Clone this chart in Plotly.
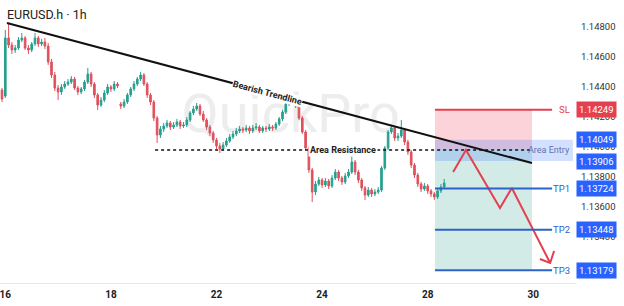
import plotly.graph_objects as go

# ---------------- data ----------------
opens = [
    1.14380, 1.14340, 1.14727, 1.14680, 1.14647, 1.14660, 1.14713, 1.14727, 1.14660, 1.14647,
    1.14687, 1.14727, 1.14687, 1.14700, 1.14673, 1.14567, 1.14480, 1.14393, 1.14367, 1.14400,
    1.14420, 1.14433, 1.14453, 1.14393, 1.14367, 1.14387, 1.14433, 1.14487, 1.14420, 1.14347,
    1.14280, 1.14313, 1.14360, 1.14400, 1.14387, 1.14420, 1.14287, 1.14273, 1.14300, 1.14347,
    1.14387, 1.14420, 1.14453, 1.14480, 1.14420, 1.14347, 1.14300, 1.14193, 1.14080, 1.14120,
    1.14140, 1.14160, 1.14133, 1.14147, 1.14167, 1.14140, 1.14147, 1.14180, 1.14227, 1.14253,
    1.14273, 1.14220, 1.14180, 1.14133, 1.14093, 1.14047, 1.14007, 1.13987, 1.14013, 1.14040,
    1.14067, 1.14087, 1.14107, 1.14120, 1.14113, 1.14127, 1.14107, 1.14127, 1.14133, 1.14107,
    1.14127, 1.14120, 1.14133, 1.14127, 1.14153, 1.14187, 1.14233, 1.14287, 1.14320, 1.14313,
    1.14273, 1.14193, 1.14100, 1.13993, 1.13847, 1.13700, 1.13753, 1.13780, 1.13747, 1.13773,
    1.13740, 1.13793, 1.13833, 1.13793, 1.13767, 1.13807, 1.13833, 1.13900, 1.13833, 1.13780,
    1.13727, 1.13680, 1.13713, 1.13687, 1.13700, 1.13713, 1.13860, 1.13993, 1.14100, 1.14127,
    1.14060, 1.14073, 1.14113, 1.14033, 1.13967, 1.13880, 1.13813, 1.13753, 1.13720, 1.13740,
    1.13707, 1.13687, 1.13667, 1.13707, 1.13733,
]
highs = [
    1.14393, 1.14780, 1.14827, 1.14700, 1.14680, 1.14733, 1.14760, 1.14740, 1.14680, 1.14700,
    1.14760, 1.14740, 1.14720, 1.14727, 1.14693, 1.14587, 1.14500, 1.14413, 1.14420, 1.14440,
    1.14453, 1.14473, 1.14467, 1.14407, 1.14400, 1.14447, 1.14527, 1.14500, 1.14433, 1.14360,
    1.14333, 1.14380, 1.14420, 1.14413, 1.14440, 1.14433, 1.14300, 1.14320, 1.14360, 1.14400,
    1.14440, 1.14467, 1.14500, 1.14493, 1.14433, 1.14360, 1.14313, 1.14207, 1.14140, 1.14160,
    1.14180, 1.14173, 1.14167, 1.14187, 1.14180, 1.14167, 1.14200, 1.14240, 1.14273, 1.14293,
    1.14287, 1.14240, 1.14193, 1.14147, 1.14107, 1.14060, 1.14027, 1.14033, 1.14060, 1.14087,
    1.14107, 1.14127, 1.14140, 1.14133, 1.14147, 1.14140, 1.14147, 1.14160, 1.14147, 1.14140,
    1.14140, 1.14153, 1.14147, 1.14167, 1.14200, 1.14247, 1.14300, 1.14340, 1.14353, 1.14333,
    1.14287, 1.14207, 1.14113, 1.14007, 1.13860, 1.13773, 1.13800, 1.13793, 1.13793, 1.13787,
    1.13813, 1.13853, 1.13847, 1.13807, 1.13827, 1.13853, 1.13947, 1.13913, 1.13847, 1.13793,
    1.13740, 1.13733, 1.13727, 1.13720, 1.13733, 1.13873, 1.14007, 1.14113, 1.14147, 1.14140,
    1.14093, 1.14180, 1.14127, 1.14047, 1.13980, 1.13893, 1.13827, 1.13767, 1.13760, 1.13753,
    1.13720, 1.13700, 1.13727, 1.13753, 1.13787,
]
lows = [
    1.14300, 1.14327, 1.14660, 1.14620, 1.14627, 1.14647, 1.14700, 1.14647, 1.14620, 1.14633,
    1.14673, 1.14667, 1.14673, 1.14653, 1.14547, 1.14460, 1.14373, 1.14313, 1.14347, 1.14387,
    1.14407, 1.14420, 1.14380, 1.14347, 1.14353, 1.14373, 1.14420, 1.14400, 1.14327, 1.14247,
    1.14267, 1.14300, 1.14347, 1.14367, 1.14373, 1.14393, 1.14253, 1.14260, 1.14287, 1.14333,
    1.14373, 1.14407, 1.14440, 1.14407, 1.14327, 1.14280, 1.14173, 1.14027, 1.14060, 1.14100,
    1.14127, 1.14113, 1.14120, 1.14133, 1.14120, 1.14127, 1.14133, 1.14167, 1.14213, 1.14240,
    1.14207, 1.14167, 1.14113, 1.14073, 1.14027, 1.13987, 1.13960, 1.13973, 1.14000, 1.14027,
    1.14053, 1.14073, 1.14093, 1.14093, 1.14100, 1.14087, 1.14093, 1.14113, 1.14093, 1.14093,
    1.14100, 1.14107, 1.14107, 1.14113, 1.14140, 1.14173, 1.14220, 1.14273, 1.14300, 1.14260,
    1.14180, 1.14087, 1.13973, 1.13827, 1.13633, 1.13680, 1.13740, 1.13727, 1.13733, 1.13720,
    1.13727, 1.13780, 1.13773, 1.13747, 1.13753, 1.13793, 1.13820, 1.13813, 1.13760, 1.13707,
    1.13647, 1.13667, 1.13667, 1.13673, 1.13687, 1.13700, 1.13847, 1.13980, 1.14087, 1.14040,
    1.14040, 1.14060, 1.14013, 1.13947, 1.13860, 1.13793, 1.13733, 1.13700, 1.13707, 1.13687,
    1.13667, 1.13647, 1.13653, 1.13693, 1.13720,
]
closes = [
    1.14320, 1.14727, 1.14680, 1.14647, 1.14660, 1.14713, 1.14727, 1.14660, 1.14647, 1.14687,
    1.14727, 1.14687, 1.14700, 1.14673, 1.14567, 1.14480, 1.14393, 1.14367, 1.14400, 1.14420,
    1.14433, 1.14453, 1.14393, 1.14367, 1.14387, 1.14433, 1.14487, 1.14420, 1.14347, 1.14280,
    1.14313, 1.14360, 1.14400, 1.14387, 1.14420, 1.14407, 1.14273, 1.14300, 1.14347, 1.14387,
    1.14420, 1.14453, 1.14480, 1.14420, 1.14347, 1.14300, 1.14193, 1.14080, 1.14120, 1.14140,
    1.14160, 1.14133, 1.14147, 1.14167, 1.14140, 1.14147, 1.14180, 1.14227, 1.14253, 1.14273,
    1.14220, 1.14180, 1.14133, 1.14093, 1.14047, 1.14007, 1.13987, 1.14013, 1.14040, 1.14067,
    1.14087, 1.14107, 1.14120, 1.14113, 1.14127, 1.14107, 1.14127, 1.14133, 1.14107, 1.14127,
    1.14120, 1.14133, 1.14127, 1.14153, 1.14187, 1.14233, 1.14287, 1.14320, 1.14313, 1.14273,
    1.14193, 1.14100, 1.13993, 1.13847, 1.13700, 1.13753, 1.13780, 1.13747, 1.13773, 1.13740,
    1.13793, 1.13833, 1.13793, 1.13767, 1.13807, 1.13833, 1.13900, 1.13833, 1.13780, 1.13727,
    1.13680, 1.13713, 1.13687, 1.13700, 1.13713, 1.13860, 1.13993, 1.14100, 1.14127, 1.14060,
    1.14073, 1.14113, 1.14033, 1.13967, 1.13880, 1.13813, 1.13753, 1.13720, 1.13740, 1.13707,
    1.13687, 1.13667, 1.13707, 1.13733, 1.13760,
]
bar_index = list(range(len(closes)))

tick_pos = [1, 33, 65, 97, 129, 161]
tick_labels = ["16", "18", "22", "24", "28", "30"]
price_ticks = [1.132, 1.134, 1.136, 1.138, 1.140, 1.142, 1.144, 1.146, 1.148]

sl_price = 1.14249
entry_hi = 1.14049
entry_lo = 1.13906
tp_prices = [1.13724, 1.13448, 1.13179]
tp_names = ["TP1", "TP2", "TP3"]
resistance = 1.13980

trend_x = [1.5, 160.6]
trend_y = [1.14827, 1.13893]
res_x = [46.4, 160.0]
zone_x = [131.2, 160.6]
level_x_end = 166.7
entry_x_end = 173.0

path_x = [136.7, 140.6, 150.9, 154.5, 166.1]
path_y = [1.13833, 1.13980, 1.13593, 1.13727, 1.13227]
head_x = [163.0, 166.1, 167.3]
head_y = [1.13253, 1.13227, 1.13307]

# ---------------- figure ----------------
FONT = "Roboto"
RED = "#e5404f"
BLUE = "#2f62c8"
BOXBLUE = "#2962ff"

fig = go.Figure()

fig.add_trace(go.Candlestick(
    x=bar_index, open=opens, high=highs, low=lows, close=closes,
    increasing=dict(line=dict(color="#26a08f", width=1), fillcolor="#26a08f"),
    decreasing=dict(line=dict(color="#e0505c", width=1), fillcolor="#e0505c"),
    whiskerwidth=0, hoverinfo="skip", showlegend=False,
))

# trendline
fig.add_trace(go.Scatter(x=trend_x, y=trend_y, mode="lines",
                         line=dict(color="#111111", width=2), hoverinfo="skip", showlegend=False))
# zigzag projection + arrow head
fig.add_trace(go.Scatter(x=path_x, y=path_y, mode="lines",
                         line=dict(color=RED, width=2), hoverinfo="skip", showlegend=False))
fig.add_trace(go.Scatter(x=head_x, y=head_y, mode="lines",
                         line=dict(color=RED, width=2), hoverinfo="skip", showlegend=False))

shapes = []
# watermark
shapes.append(dict(type="rect", xref="x", yref="y", x0=55, x1=120, y0=1.1410, y1=1.1440,
                   line=dict(width=0), fillcolor="rgba(0,0,0,0)", layer="below",
                   label=dict(text="QuickPro", textposition="middle center",
                              font=dict(family=FONT, size=54, color="#ededed"))))
# risk / reward zones
shapes.append(dict(type="rect", xref="x", yref="y", x0=zone_x[0], x1=zone_x[1],
                   y0=resistance, y1=sl_price, line=dict(width=0),
                   fillcolor="#fbd3d8", layer="below"))
shapes.append(dict(type="rect", xref="x", yref="y", x0=zone_x[0], x1=zone_x[1],
                   y0=tp_prices[2], y1=resistance, line=dict(width=0),
                   fillcolor="#d3ebe6", layer="below"))
shapes.append(dict(type="rect", xref="x", yref="y", x0=zone_x[0], x1=entry_x_end,
                   y0=entry_lo, y1=entry_hi, line=dict(width=0),
                   fillcolor="rgba(41,98,255,0.2)", layer="below"))
# resistance dotted line
shapes.append(dict(type="line", xref="x", yref="y", x0=res_x[0], x1=res_x[1],
                   y0=resistance, y1=resistance, line=dict(color="#111111", width=1.5, dash="dot")))
# SL and TP lines
shapes.append(dict(type="line", xref="x", yref="y", x0=zone_x[0], x1=level_x_end,
                   y0=sl_price, y1=sl_price, line=dict(color=RED, width=2)))
for p in tp_prices:
    shapes.append(dict(type="line", xref="x", yref="y", x0=zone_x[0], x1=level_x_end,
                       y0=p, y1=p, line=dict(color=BLUE, width=2)))

annotations = []
annotations.append(dict(xref="paper", yref="paper", x=0, y=1, xanchor="left", yanchor="top",
                        xshift=5, yshift=-5, text="EURUSD.h · 1h", showarrow=False,
                        font=dict(family=FONT, size=12.5, color="#222222")))
# trendline label
tl_x = 80.6
tl_y = trend_y[0] + (tl_x - trend_x[0]) / (trend_x[1] - trend_x[0]) * (trend_y[1] - trend_y[0])
annotations.append(dict(x=tl_x, y=tl_y, xref="x", yref="y", text="<b>Bearish Trendline</b>",
                        showarrow=False, textangle=15, bgcolor="white", borderpad=0,
                        font=dict(family=FONT, size=9, color="#222222")))
annotations.append(dict(x=103.3, y=resistance, xref="x", yref="y", text="<b>Area Resistance</b>",
                        showarrow=False, bgcolor="white", borderpad=1,
                        font=dict(family=FONT, size=9, color="#222222")))
annotations.append(dict(x=172.7, y=(entry_hi + entry_lo) / 2, xref="x", yref="y", xanchor="right",
                        text="Area Entry", showarrow=False,
                        font=dict(family=FONT, size=9, color="#5a76b0")))
annotations.append(dict(x=172.7, y=sl_price, xref="x", yref="y", xanchor="right",
                        text="SL", showarrow=False, font=dict(family=FONT, size=9.5, color=RED)))
for p, n in zip(tp_prices, tp_names):
    annotations.append(dict(x=172.7, y=p, xref="x", yref="y", xanchor="right",
                            text=n, showarrow=False, font=dict(family=FONT, size=9.5, color=BLUE)))
# price boxes on the scale
def price_box(p, color):
    return dict(xref="paper", yref="y", x=1, y=p, xanchor="left", xshift=0,
                text=f"{p:.5f}", showarrow=False, bgcolor=color, borderpad=2,
                font=dict(family=FONT, size=9.5, color="white"))
annotations.append(price_box(sl_price, RED))
annotations.append(price_box(entry_hi, BOXBLUE))
annotations.append(price_box(entry_lo, BOXBLUE))
for p in tp_prices:
    annotations.append(price_box(p, BOXBLUE))

fig.update_layout(
    width=624, height=306,
    margin=dict(l=0, r=48, t=0, b=23),
    paper_bgcolor="white", plot_bgcolor="white",
    showlegend=False, hovermode=False,
    font=dict(family=FONT),
    shapes=shapes, annotations=annotations,
    xaxis=dict(range=[-0.606, 173.94], tickvals=tick_pos,
               ticktext=[f"<b>{t}</b>" for t in tick_labels],
               ticklabeloverflow="allow", ticklabelstandoff=2,
               showgrid=False, zeroline=False, showline=True, linecolor="#e6e6e6", linewidth=1,
               ticks="", tickfont=dict(family=FONT, size=10, color="#222222"),
               rangeslider=dict(visible=False), fixedrange=True),
    yaxis=dict(side="right", range=[1.130933, 1.1498], tickvals=price_ticks,
               ticktext=[f"{v:.5f}" for v in price_ticks], ticklabelstandoff=4,
               showgrid=False, zeroline=False, showline=False, ticks="",
               tickfont=dict(family=FONT, size=9.5, color="#333333"), fixedrange=True),
)

fig.write_html("out.html")
